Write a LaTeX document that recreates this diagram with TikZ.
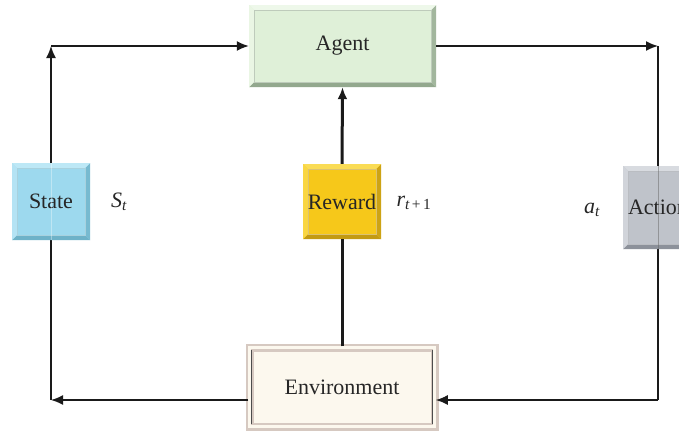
\documentclass[tikz,border=0pt]{standalone}
\usepackage{fontspec}
\setmainfont{Liberation Serif}
\usetikzlibrary{arrows.meta,backgrounds,calc}
\definecolor{agentM}{HTML}{DFF0D8}\definecolor{agentD}{HTML}{93A88E}\definecolor{agentL}{HTML}{EEF8EA}
\definecolor{stateM}{HTML}{9DD9EE}\definecolor{stateD}{HTML}{6EB2C8}\definecolor{stateL}{HTML}{BDE8F6}
\definecolor{rewM}{HTML}{F6C81A}\definecolor{rewD}{HTML}{C39A12}\definecolor{rewL}{HTML}{FADC55}
\definecolor{actM}{HTML}{BFC3CA}\definecolor{actD}{HTML}{8C919A}\definecolor{actL}{HTML}{D8DBE0}
\definecolor{envM}{HTML}{FCF8EE}\definecolor{envB}{HTML}{D6C9C1}
\definecolor{lineC}{HTML}{1A1A1A}
\tikzset{
  txt/.style={font=\fontsize{22}{26}\selectfont, text=black!85},
  bevel/.style n args={3}{txt, rectangle, fill=#1, inner sep=0pt,
    path picture={
      \coordinate (SW) at (path picture bounding box.south west);
      \coordinate (NE) at (path picture bounding box.north east);
      \coordinate (SE) at (SW -| NE);
      \coordinate (NW) at (NE -| SW);
      \fill[#2] (SW) -- (SE) -- ($(SE)+(-5,-5)$) -- ($(SW)+(5,-5)$) -- cycle;
      \fill[#2!80!#1] (SE) -- (NE) -- ($(NE)+(-5,5)$) -- ($(SE)+(-5,-5)$) -- cycle;
      \fill[#3] (NW) -- (NE) -- ($(NE)+(-5,5)$) -- ($(NW)+(5,5)$) -- cycle;
      \fill[#3!70!#1] (NW) -- (SW) -- ($(SW)+(5,-5)$) -- ($(NW)+(5,5)$) -- cycle;
      \draw[#2!60!white, line width=0.6] ($(NW)+(5,5)$) rectangle ($(SE)+(-5,-5)$);
    }},
  envbox/.style={txt, rectangle, fill=envM, draw=envB, line width=2.5,
    double=envM, double distance=3pt, minimum width=185, minimum height=79},
  conn/.style={draw=lineC, line width=1.6},
  tip/.style={-{Latex[length=12pt,width=10pt]}},
  arr/.style={conn, tip},
  thick conn/.style={draw=lineC, line width=3},
  lbl/.style={txt, inner sep=0pt}
}
\begin{document}
\begin{tikzpicture}[x=1pt,y=-1pt]
\useasboundingbox (0,0) rectangle (679,432);
\node[bevel={agentM}{agentD}{agentL}, minimum width=187, minimum height=82] (agent) at (342.5,46) {Agent};
\node[bevel={stateM}{stateD}{stateL}, minimum width=78, minimum height=77] (state) at (51,201.5) {State};
\node[bevel={rewM}{rewD}{rewL}, minimum width=78, minimum height=75] (reward) at (342,201.5) {Reward};
\node[bevel={actM}{actD}{actL}, minimum width=70, minimum height=83] (action) at (658,207.5) {Action};
\node[envbox] (env) at (342,387) {Environment};
\draw[draw=black!70, line width=0.8] ($(env.south west)+(3.5,-3.5)$) -- ($(env.north west)+(3.5,3.5)$);
\draw[draw=black!70, line width=0.8] ($(env.north east)+(-3.5,3.5)$) -- ($(env.south east)+(-3.5,-3.5)$);

\node[lbl] (ls) at (119,202) {\itshape S\textsubscript{t}};
\node[lbl] (lr) at (414,203) {\itshape r\textsubscript{t\,\upshape+\,1}};
\node[lbl] (la) at (592,210) {\itshape a\textsubscript{t}};

\coordinate (tl) at (51,46);
\coordinate (tr) at (658,46);
\coordinate (bl) at (51,400);
\coordinate (br) at (658,400);

\begin{scope}[on background layer]
\fill[white] (0,0) rectangle (679,432);
\draw[conn] (state.south) -- (bl);
\draw[conn] (tr) -- (br);
\end{scope}
\draw[draw=white, opacity=0.35, line width=1] (state.north) -- (state.south);
\draw[draw=black!60, opacity=0.5, line width=1] (action.north) -- (action.south);
\draw[arr] (state.north) -- (tl);
\draw[arr] (tl) -- (agent.west);
\draw[arr] (agent.east) -- (tr);
\draw[arr] (br) -- (br -| env.east);
\draw[arr] (bl -| env.west) -- (bl);
\draw[thick conn, tip] (reward.north) -- (agent.south);
\draw[thick conn] (env.north) -- (reward.south);
\end{tikzpicture}
\end{document}
